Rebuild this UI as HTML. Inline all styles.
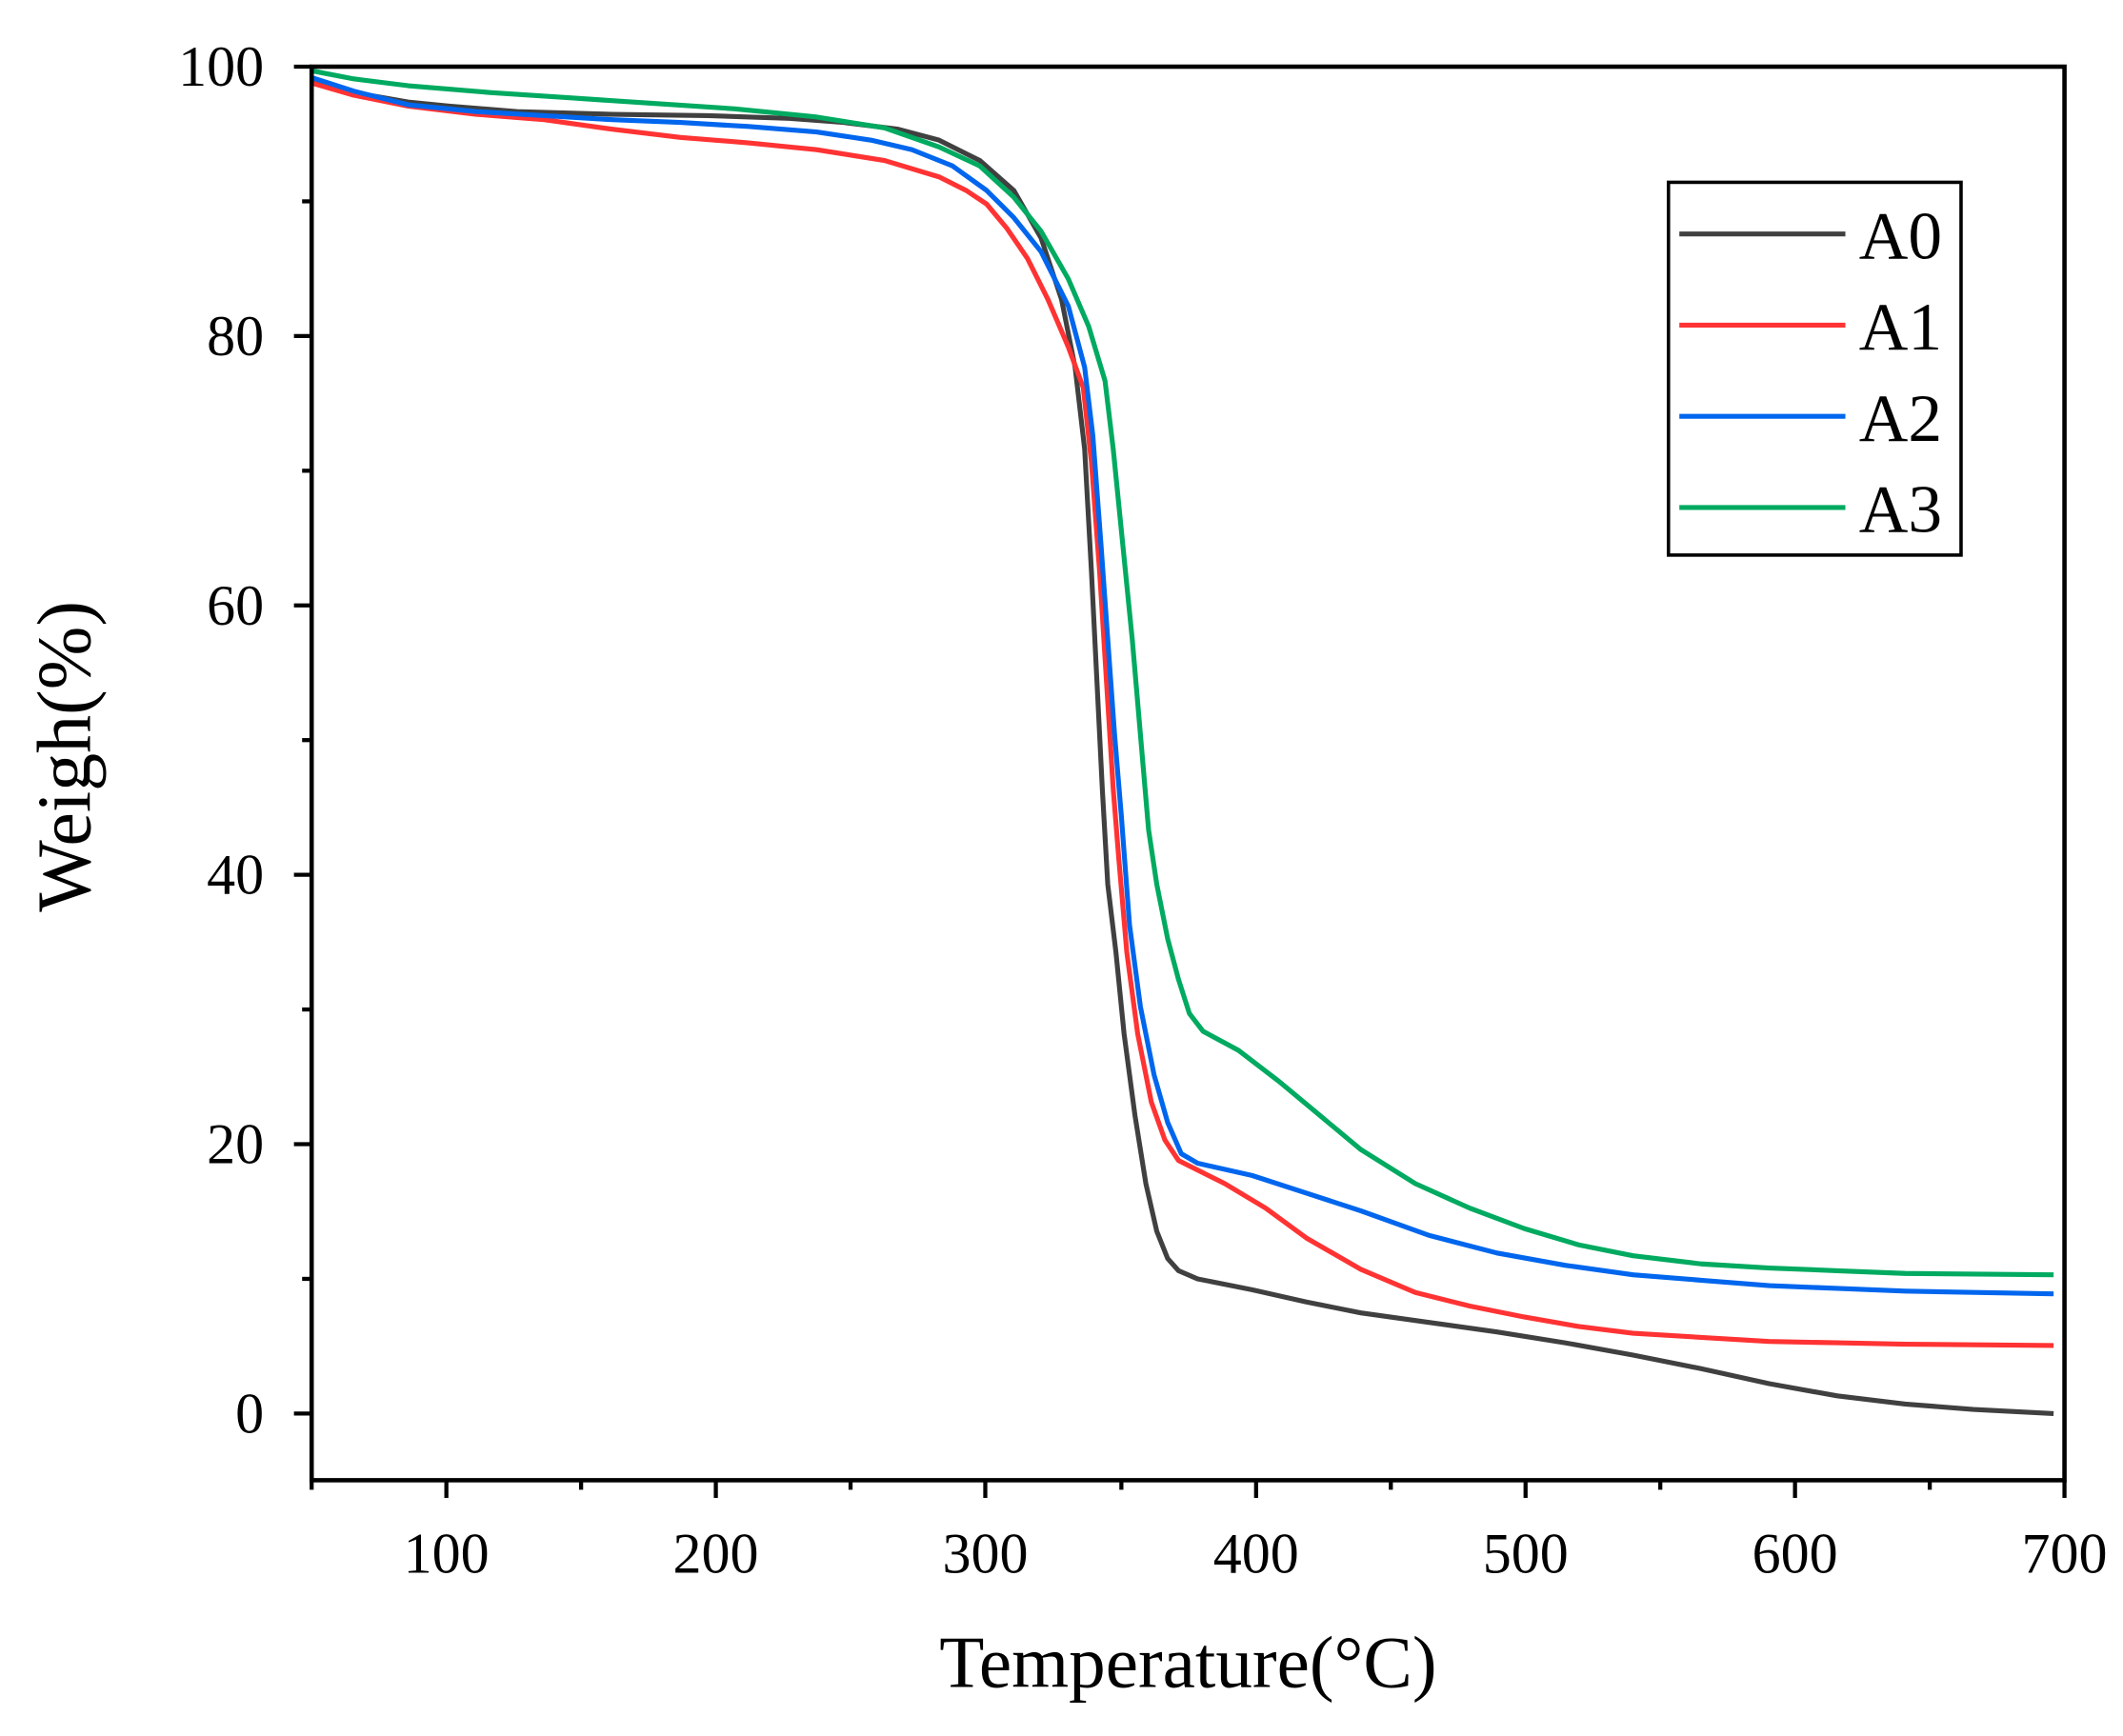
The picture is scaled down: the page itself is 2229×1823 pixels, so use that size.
<!DOCTYPE html>
<html><head><meta charset="utf-8"><style>
html,body{margin:0;padding:0;background:#fff;}
svg{display:block;}
text{font-family:"Liberation Serif",serif;fill:#000;}
</style></head><body>
<svg width="2229" height="1823" viewBox="0 0 1560 1276" preserveAspectRatio="none" xmlns="http://www.w3.org/2000/svg">
<rect width="1560" height="1276" fill="#fff"/>
<g fill="none" stroke-width="3.6" stroke-linejoin="round">
<polyline stroke="#404040" points="229,58 260,68 300,75 330,78 380,82 450,84 520,85 580,87 620,90 660,95 690,103 720,118 745,140 765,175 780,220 790,270 797,330 802,420 806,500 810,580 814,650 820,700 826,760 834,820 842,870 850,905 858,925 866,934 880,940 920,948 960,957 1000,965 1050,972 1100,979 1150,987 1200,996 1250,1006 1300,1017 1350,1026 1400,1032 1450,1036 1509,1039"/>
<polyline stroke="#ff3333" points="229,61 260,70 300,78 350,84 400,88 450,95 500,101 550,105 600,110 650,118 690,130 710,140 725,150 740,168 755,190 770,220 785,255 796,285 802,340 808,420 813,500 818,580 822,630 828,700 836,760 846,810 856,838 866,853 880,860 900,870 930,888 960,910 1000,933 1040,950 1080,960 1120,968 1160,975 1200,980 1250,983 1300,986 1350,987 1400,988 1509,989"/>
<polyline stroke="#0066ee" points="229,57 260,67 300,77 350,82 400,85 450,88 500,90 550,93 600,97 640,103 670,110 700,122 725,140 745,160 765,185 785,225 797,270 803,320 809,400 814,470 819,540 824,600 830,680 838,740 848,790 858,825 868,848 880,855 920,864 960,877 1000,890 1050,908 1100,921 1150,930 1200,937 1250,941 1300,945 1350,947 1400,949 1509,951"/>
<polyline stroke="#00aa60" points="229,52 260,58 300,63 360,68 420,72 480,76 540,80 600,86 650,94 690,108 720,122 745,145 765,170 785,205 800,240 812,280 818,330 825,400 832,470 838,540 844,610 850,650 858,690 866,720 874,745 884,758 910,772 940,795 970,820 1000,845 1040,870 1080,888 1120,903 1160,915 1200,923 1250,929 1300,932 1350,934 1400,936 1509,937"/>
</g>
<rect x="229" y="49" width="1288" height="1039" fill="none" stroke="#000" stroke-width="3.2"/>
<g stroke="#000" stroke-width="3">
<line x1="216" y1="49" x2="229" y2="49"/><line x1="216" y1="247" x2="229" y2="247"/><line x1="216" y1="445" x2="229" y2="445"/><line x1="216" y1="643" x2="229" y2="643"/><line x1="216" y1="841" x2="229" y2="841"/><line x1="216" y1="1039" x2="229" y2="1039"/>
<line x1="222" y1="148" x2="229" y2="148"/><line x1="222" y1="346" x2="229" y2="346"/><line x1="222" y1="544" x2="229" y2="544"/><line x1="222" y1="742" x2="229" y2="742"/><line x1="222" y1="940" x2="229" y2="940"/>
<line x1="328" y1="1088" x2="328" y2="1101"/><line x1="526" y1="1088" x2="526" y2="1101"/><line x1="724" y1="1088" x2="724" y2="1101"/><line x1="923" y1="1088" x2="923" y2="1101"/><line x1="1121" y1="1088" x2="1121" y2="1101"/><line x1="1319" y1="1088" x2="1319" y2="1101"/><line x1="1517" y1="1088" x2="1517" y2="1101"/>
<line x1="229" y1="1088" x2="229" y2="1095"/><line x1="427" y1="1088" x2="427" y2="1095"/><line x1="625" y1="1088" x2="625" y2="1095"/><line x1="824" y1="1088" x2="824" y2="1095"/><line x1="1022" y1="1088" x2="1022" y2="1095"/><line x1="1220" y1="1088" x2="1220" y2="1095"/><line x1="1418" y1="1088" x2="1418" y2="1095"/>
</g>
<g font-size="42" text-anchor="end">
<text x="194" y="63">100</text><text x="194" y="261">80</text><text x="194" y="459">60</text><text x="194" y="657">40</text><text x="194" y="855">20</text><text x="194" y="1053">0</text>
</g>
<g font-size="42" text-anchor="middle">
<text x="328" y="1156">100</text><text x="526" y="1156">200</text><text x="724" y="1156">300</text><text x="923" y="1156">400</text><text x="1121" y="1156">500</text><text x="1319" y="1156">600</text><text x="1517" y="1156">700</text>
</g>
<text x="873" y="1240" font-size="54" text-anchor="middle">Temperature(°C)</text>
<text transform="translate(66,556) rotate(-90)" font-size="56" text-anchor="middle">Weigh(%)</text>
<rect x="1226" y="134" width="215" height="274" fill="#fff" stroke="#000" stroke-width="2.5"/>
<g stroke-width="3.6">
<line x1="1234" y1="172" x2="1356" y2="172" stroke="#404040"/>
<line x1="1234" y1="239" x2="1356" y2="239" stroke="#ff3333"/>
<line x1="1234" y1="306" x2="1356" y2="306" stroke="#0066ee"/>
<line x1="1234" y1="373" x2="1356" y2="373" stroke="#00aa60"/>
</g>
<g font-size="50">
<text x="1366" y="190">A0</text><text x="1366" y="257">A1</text><text x="1366" y="324">A2</text><text x="1366" y="391">A3</text>
</g>
</svg>
</body></html>
